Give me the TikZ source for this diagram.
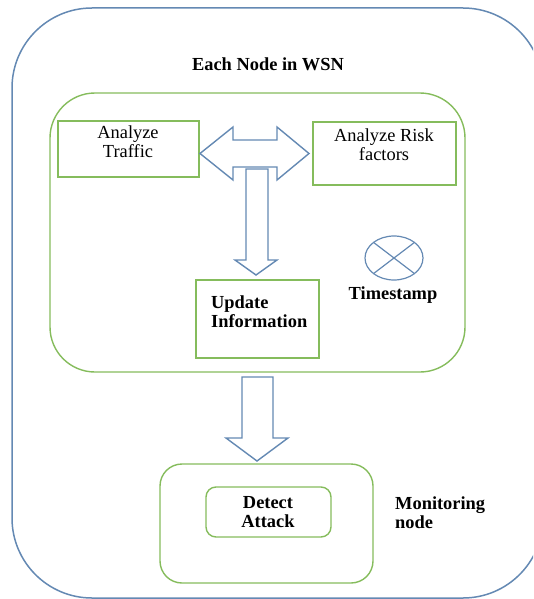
\documentclass[tikz,border=0pt]{standalone}
\usepackage{fontspec}
\setmainfont{Liberation Serif}
\begin{document}
\begin{tikzpicture}[x=1pt,y=-1pt,
  bluel/.style={draw=arrowblue, line width=1.5pt},
  greenl/.style={draw=boxgreen, line width=1.4pt},
  blockarrow/.style={draw=arrowblue, line width=1.4pt, fill=white, line join=miter},
  txt/.style={font=\fontsize{18.4}{19}\selectfont, align=center, inner sep=0pt},
  btxt/.style={font=\fontsize{18.4}{19}\selectfont\bfseries, align=center, inner sep=0pt},
  bltxt/.style={font=\fontsize{18.4}{19}\selectfont\bfseries, align=left, inner sep=0pt, anchor=west}]
\definecolor{arrowblue}{HTML}{6489B3}
\definecolor{boxgreen}{HTML}{85BC5C}
\useasboundingbox (0,0) rectangle (533,599);
\begin{scope}
\clip (0,0) rectangle (533,599);
% outer WSN node
\draw[bluel, rounded corners=80pt] (12,8) rectangle (543,598);
\end{scope}
\node[btxt] (title) at (268,64) {Each Node in WSN};
% inner green region
\draw[greenl, rounded corners=45pt] (50,93) rectangle (465,372);
% boxes
\draw[greenl] (58,121) rectangle (199,177);
\node[txt, anchor=north] (traffic) at (128,126) {Analyze\\Traffic};
\draw[greenl] (313,122) rectangle (456,185);
\node[txt, anchor=north] (risk) at (384,129) {Analyze Risk\\factors};
\draw[greenl] (196,280) rectangle (319,358);
\node[bltxt] (update) at (211,312) {Update\\Information};
% timestamp symbol
\draw[bluel, line width=1.2pt] (394,258) ellipse [x radius=29, y radius=22];
\draw[bluel, line width=1.2pt] (373.5,242.4) -- (414.5,273.6);
\draw[bluel, line width=1.2pt] (373.5,273.6) -- (414.5,242.4);
\node[btxt] (ts) at (393,295) {Timestamp};
% double arrow
\draw[blockarrow] (200,153.5) -- (233,127) -- (233,140) -- (277,140) -- (277,127)
  -- (309,153.5) -- (277,180) -- (277,167) -- (233,167) -- (233,180) -- cycle;
% down arrow to update
\draw[blockarrow] (246,169) -- (268,169) -- (268,260) -- (277,260) -- (256,275)
  -- (235,260) -- (246,260) -- cycle;
% down arrow to monitoring node
\draw[blockarrow] (242,377) -- (273,377) -- (273,438) -- (288,438) -- (257,461)
  -- (226,438) -- (242,438) -- cycle;
% monitoring node
\draw[greenl, rounded corners=22pt] (160,464) rectangle (373,583);
\draw[greenl, rounded corners=10pt] (206,487) rectangle (331,537);
\node[btxt] (detect) at (268,512) {Detect\\Attack};
\node[bltxt] (mon) at (395,513) {Monitoring\\node};
\end{tikzpicture}
\end{document}
